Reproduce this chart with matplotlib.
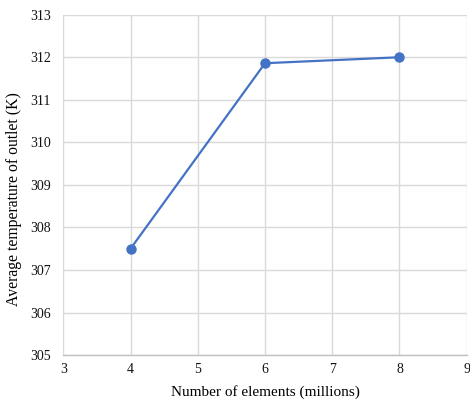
import matplotlib
matplotlib.use("Agg")
import matplotlib.pyplot as plt

# mesh sizes (millions) and outlet average temperature (K)
elements = [4, 6, 8]
temp_outlet = [307.5, 311.86, 312.0]

x_ticks = [3, 4, 5, 6, 7, 8, 9]
y_ticks = [305, 306, 307, 308, 309, 310, 311, 312, 313]

plt.rcParams["font.family"] = ["Liberation Serif", "DejaVu Serif"]

fig = plt.figure(figsize=(4.70, 4.03), dpi=100)
ax = fig.add_axes([0.1347, 0.119, 0.8583, 0.8445])

ax.plot(elements, temp_outlet, color="#4472C4", linewidth=1.6,
        marker="o", markersize=6.5, zorder=3)

ax.set_xlim(3, 9)
ax.set_ylim(305, 313)
ax.set_xticks(x_ticks)
ax.set_yticks(y_ticks)
ax.grid(True, color="#D9D9D9", linewidth=1.0)
ax.set_axisbelow(True)

for s in ["top", "right", "left"]:
    ax.spines[s].set_visible(False)
ax.spines["bottom"].set_color("#BFBFBF")
ax.spines["bottom"].set_linewidth(1.0)

ax.tick_params(axis="both", length=0, labelsize=10, colors="#111111")
ax.tick_params(axis="y", pad=9)
ax.tick_params(axis="x", pad=6)

ax.set_xlabel("Number of elements (millions)", fontsize=11, labelpad=6)
ax.set_ylabel("Average temperature of outlet (K)", fontsize=11.3)
ax.yaxis.set_label_coords(-0.103, 0.458)

fig.savefig("out.png", dpi=100)
